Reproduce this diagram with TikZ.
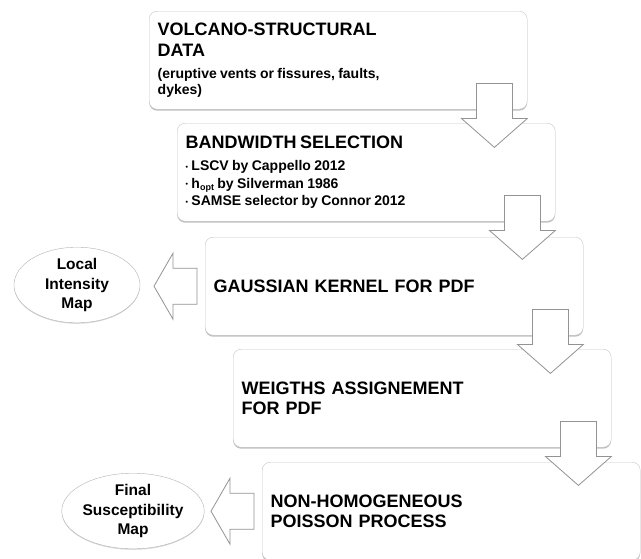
\documentclass[tikz,border=0pt]{standalone}
\usepackage{fontspec}
\setmainfont{Liberation Sans}
\usetikzlibrary{calc,shadows,shapes.geometric}

\newcommand{\downblk}[1]{\draw[blk] ($(#1.south east)+(-51,-26)$) -- ++(36,0) -- ++(0,35) -- ++(15,0) -- ($(#1.south east)+(-33,38)$) -- ($(#1.south east)+(-66,9)$) -- ++(15,0) -- cycle;}
\newcommand{\leftblk}[1]{\draw[blk] ($(#1.west)+(-8,-18)$) -- ++(0,36) -- ++(-24,0) -- ++(0,15) -- ($(#1.west)+(-51,0)$) -- ($(#1.west)+(-32,-33)$) -- ++(0,15) -- cycle;}
\newcommand{\itembullet}{\raisebox{1.5pt}{\fontsize{7}{7}\selectfont\textbullet}\ }

\begin{document}
\begin{tikzpicture}[x=1pt, y=-1pt,
    stage/.style={draw=gray!45, fill=white, rounded corners=8pt, anchor=north west,
        minimum width=378pt, minimum height=98pt, text width=361pt, inner xsep=8.5pt,
        align=left, font=\bfseries,
        drop shadow={shadow xshift=0pt, shadow yshift=-1.5pt, fill=gray, opacity=.5}},
    big/.style={font=\bfseries\fontsize{18}{19.5}\selectfont},
    result/.style={ellipse, draw=gray!60, fill=white, minimum width=126pt, minimum height=65pt,
        inner sep=0pt, align=center, font=\bfseries\fontsize{15.5}{19.5}\selectfont,
        drop shadow={shadow xshift=0pt, shadow yshift=-1pt, fill=gray, opacity=.3}},
    blk/.style={draw=gray!85, fill=white, line width=.8pt}]
    \useasboundingbox (0,0) rectangle (641,558);
    \node[stage] (volcdata) at (149,11) {{\fontsize{18}{21}\selectfont VOLCANO-STRUCTURAL\\DATA\par}\vspace{6pt}{\fontsize{14}{16}\selectfont (eruptive vents or fissures, faults,\\dykes)\par}};
    \node[stage] (bandwidth) at (177,123) {{\fontsize{18}{21}\selectfont BANDWIDTH SELECTION\par}\vspace{5pt}{\fontsize{14}{17.5}\selectfont \itembullet LSCV by Cappello 2012\\\itembullet h\raisebox{-2pt}{\fontsize{9}{9}\selectfont opt} by Silverman 1986\\\itembullet SAMSE selector by Connor 2012\par}};
    \node[stage, big] (kernel) at (205,237) {GAUSSIAN KERNEL FOR PDF};
    \node[stage, big] (weights) at (233,349) {WEIGTHS ASSIGNEMENT\\FOR PDF};
    \node[stage, big] (poisson) at (262,462) {NON-HOMOGENEOUS\\POISSON PROCESS};
    \node[result] (localmap) at (77,285) {Local\\Intensity\\Map};
    \node[result] (finalmap) at (133,511) {Final\\Susceptibility\\Map};
    \downblk{volcdata}
    \downblk{bandwidth}
    \downblk{kernel}
    \downblk{weights}
    \leftblk{kernel}
    \leftblk{poisson}
\end{tikzpicture}
\end{document}
